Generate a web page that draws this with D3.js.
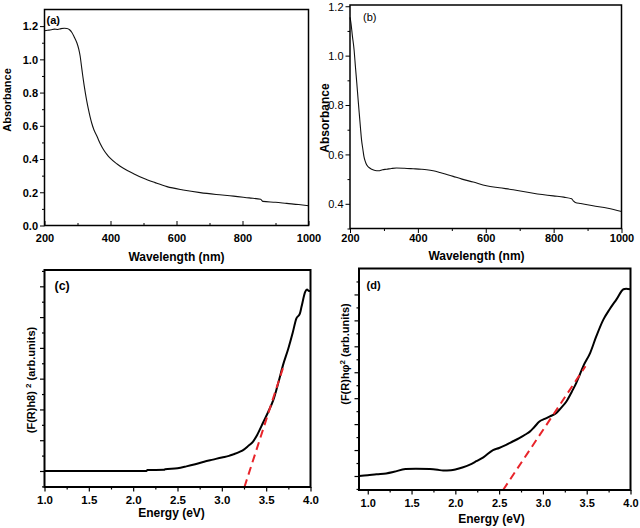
<!DOCTYPE html>
<html>
<head>
<meta charset="utf-8">
<script src="https://cdn.jsdelivr.net/npm/d3@7"></script>
<style>
  html, body { margin: 0; padding: 0; background: #fff; }
  svg { display: block; }
  text { font-family: "Liberation Sans", Arial, sans-serif; font-weight: bold; fill: #000; }
</style>
</head>
<body>
<svg id="chart" width="640" height="528"></svg>
<script>
// ---------- DATA ----------
// Panel (a): absorbance vs wavelength
const aWavelength = [200, 210, 220, 230, 240, 250, 260, 268, 276, 283, 290, 298, 304, 308, 312, 316, 320, 324, 328, 333, 338, 343, 350, 359, 369, 379, 389, 399, 420, 439, 470, 500, 535, 571, 620, 672, 720, 773, 820, 855, 862, 900, 934, 970, 1000];
const aAbsorbance = [1.172, 1.175, 1.178, 1.182, 1.180, 1.185, 1.187, 1.186, 1.178, 1.162, 1.135, 1.10, 1.06, 1.02, 0.96, 0.90, 0.845, 0.795, 0.75, 0.70, 0.655, 0.617, 0.575, 0.537, 0.492, 0.456, 0.428, 0.405, 0.370, 0.345, 0.312, 0.284, 0.258, 0.234, 0.214, 0.198, 0.187, 0.177, 0.166, 0.158, 0.145, 0.140, 0.133, 0.126, 0.119];

// Panel (b): absorbance vs wavelength
const bWavelength = [200, 203, 207, 212, 216, 220, 224, 228, 231, 234, 238, 241, 245, 249, 256, 264, 274, 284, 296, 308, 322, 337, 360, 386, 410, 426, 445, 465, 485, 504, 530, 563, 602, 640, 681, 740, 799, 830, 853, 858, 864, 880, 916, 960, 1000];
const bAbsorbance = [1.155, 1.13, 1.08, 1.024, 0.955, 0.889, 0.82, 0.754, 0.705, 0.659, 0.62, 0.592, 0.572, 0.558, 0.547, 0.540, 0.535, 0.534, 0.538, 0.540, 0.543, 0.545, 0.544, 0.542, 0.540, 0.538, 0.534, 0.527, 0.519, 0.511, 0.500, 0.488, 0.473, 0.465, 0.457, 0.443, 0.432, 0.427, 0.420, 0.412, 0.405, 0.401, 0.392, 0.382, 0.369];

// Panel (c): Tauc plot (arbitrary units)
const cEnergy = [1.0, 1.5, 2.0, 2.15, 2.16, 2.35, 2.36, 2.5, 2.6, 2.7, 2.8, 2.9, 3.0, 3.08, 3.13, 3.2, 3.24, 3.3, 3.35, 3.4, 3.47, 3.52, 3.58, 3.64, 3.69, 3.75, 3.8, 3.84, 3.88, 3.9, 3.94, 3.96, 3.98, 4.0];
const cValue  = [0, 0, 0, 0, 0.03, 0.04, 0.06, 0.09, 0.15, 0.22, 0.30, 0.37, 0.44, 0.49, 0.54, 0.62, 0.68, 0.82, 0.95, 1.18, 1.6, 1.9, 2.3, 2.9, 3.44, 3.98, 4.5, 4.95, 5.11, 5.35, 5.82, 5.9, 5.85, 5.85];
const cFitEnergy = [3.255, 3.70];
const cFitValue  = [-0.52, 3.44];

// Panel (d): Tauc plot (arbitrary units)
const dEnergy = [0.9, 1.0, 1.1, 1.21, 1.3, 1.43, 1.55, 1.71, 1.8, 1.86, 1.95, 2.01, 2.08, 2.16, 2.24, 2.32, 2.43, 2.5, 2.58, 2.65, 2.73, 2.8, 2.85, 2.9, 2.96, 3.02, 3.08, 3.15, 3.2, 3.27, 3.33, 3.38, 3.42, 3.46, 3.54, 3.61, 3.69, 3.76, 3.84, 3.92, 3.95, 4.0];
const dValue  = [0, 0.03, 0.07, 0.1, 0.16, 0.27, 0.28, 0.27, 0.24, 0.21, 0.22, 0.26, 0.33, 0.43, 0.57, 0.72, 1.0, 1.08, 1.2, 1.32, 1.46, 1.6, 1.71, 1.88, 2.1, 2.2, 2.3, 2.42, 2.6, 2.88, 3.25, 3.58, 3.9, 4.23, 4.75, 5.39, 6.03, 6.42, 6.81, 7.2, 7.22, 7.2];
const dFitEnergy = [2.545, 3.486];
const dFitValue  = [-0.54, 4.23];

// Ticks
const wlMajor = [200, 400, 600, 800, 1000];
const wlMinor = [300, 500, 700, 900];
const aYMajor = [0.0, 0.2, 0.4, 0.6, 0.8, 1.0, 1.2];
const aYMinor = [0.1, 0.3, 0.5, 0.7, 0.9, 1.1];
const bYMajor = [0.4, 0.6, 0.8, 1.0, 1.2];
const bYMinor = [0.3, 0.5, 0.7, 0.9, 1.1];
const eMajorC = [1.0, 1.5, 2.0, 2.5, 3.0, 3.5, 4.0];
const eMinorC = [1.25, 1.75, 2.25, 2.75, 3.25, 3.75];
const eMinorD = [1.25, 1.75, 2.25, 2.75, 3.25, 3.75];
const cYMajor = [0, 1, 2, 3, 4, 5, 6];
const cYMinor = [-0.5, 0.5, 1.5, 2.5, 3.5, 4.5, 5.5, 6.5];
const dYMajor = [0, 1, 2, 3, 4, 5, 6, 7];
const dYMinor = [-0.5, 0.5, 1.5, 2.5, 3.5, 4.5, 5.5, 6.5, 7.5];

// ---------- DRAW ----------
const svg = d3.select("#chart");

function drawPanel(cfg) {
  const g = svg.append("g");
  const x = d3.scaleLinear().domain(cfg.xDomain).range([cfg.left, cfg.right]);
  const y = d3.scaleLinear().domain(cfg.yDomain).range([cfg.bottom, cfg.top]);

  // x minor
  g.append("g").attr("transform", `translate(0,${cfg.bottom})`)
    .call(d3.axisBottom(x).tickValues(cfg.xMinor).tickSize(cfg.xIn ? -2.5 : 2.5).tickFormat(""))
    .call(s => { s.select(".domain").remove(); s.selectAll("line").attr("stroke", "#000").attr("stroke-width", cfg.tw); });
  // x major
  g.append("g").attr("transform", `translate(0,${cfg.bottom})`)
    .call(d3.axisBottom(x).tickValues(cfg.xMajor).tickSize(cfg.xIn ? -4.5 : 4.5).tickFormat(cfg.xFmt))
    .call(s => {
      s.select(".domain").remove();
      s.selectAll("line").attr("stroke", "#000").attr("stroke-width", cfg.tw);
      s.selectAll("text").attr("y", cfg.xLabOff).attr("dy", "0.35em")
        .style("font-size", cfg.xFont + "px").attr("fill", "#000");
    });
  // y minor
  g.append("g").attr("transform", `translate(${cfg.left},0)`)
    .call(d3.axisLeft(y).tickValues(cfg.yMinor.filter(v => v >= cfg.yDomain[0] && v <= cfg.yDomain[1])).tickSize(2.5).tickFormat(""))
    .call(s => { s.select(".domain").remove(); s.selectAll("line").attr("stroke", "#000").attr("stroke-width", cfg.tw); });
  // y major
  g.append("g").attr("transform", `translate(${cfg.left},0)`)
    .call(d3.axisLeft(y).tickValues(cfg.yMajor).tickSize(4.5).tickFormat(cfg.yFmt || ""))
    .call(s => {
      s.select(".domain").remove();
      s.selectAll("line").attr("stroke", "#000").attr("stroke-width", cfg.tw);
      s.selectAll("text").attr("x", -6.5).attr("dy", "0.35em")
        .style("font-size", "11px").style("font-weight", cfg.yWeight || "bold").attr("fill", "#000");
    });

  // curve
  const pts = cfg.xs.map((v, i) => [v, cfg.ys[i]]);
  g.append("path").datum(pts)
    .attr("fill", "none").attr("stroke", cfg.lineColor).attr("stroke-width", cfg.lw)
    .attr("stroke-linejoin", "round")
    .attr("d", d3.line().x(d => x(d[0])).y(d => y(d[1])).curve(d3.curveMonotoneX));

  // fit line
  if (cfg.fitX) {
    const fp = cfg.fitX.map((v, i) => [v, cfg.fitY[i]]);
    g.append("path").datum(fp)
      .attr("fill", "none").attr("stroke", "#e8242a").attr("stroke-width", 2)
      .attr("stroke-dasharray", "8,5")
      .attr("d", d3.line().x(d => x(d[0])).y(d => y(d[1])));
  }

  // frame
  g.append("rect").attr("x", cfg.left).attr("y", cfg.top)
    .attr("width", cfg.right - cfg.left).attr("height", cfg.bottom - cfg.top)
    .attr("fill", "none").attr("stroke", "#000").attr("stroke-width", cfg.fw);

  // panel label
  g.append("text").attr("x", cfg.tag[0]).attr("y", cfg.tag[1]).attr("dy", "0.35em")
    .style("font-size", cfg.tag[3] + "px").style("font-weight", cfg.tag[4] || "bold").text(cfg.tag[2]);

  // x title
  g.append("text").attr("x", cfg.xTitle[0]).attr("y", cfg.xTitle[1]).attr("dy", "0.35em")
    .attr("text-anchor", "middle").style("font-size", "12px").text(cfg.xTitle[2]);

  // y title
  const yt = g.append("text")
    .attr("transform", `translate(${cfg.yTitle[0]},${cfg.yTitle[1]}) rotate(-90)`)
    .attr("dy", "0.35em").attr("text-anchor", "middle").style("font-size", cfg.yTitle[3] + "px");
  if (cfg.yTitleParts) {
    cfg.yTitleParts.forEach(p => {
      const t = yt.append("tspan").text(p.t);
      if (p.sup) t.attr("baseline-shift", "super").style("font-size", "8px");
    });
  } else {
    yt.text(cfg.yTitle[2]);
  }
  return g;
}

const fmt1 = d3.format(".1f");

drawPanel({
  left: 44.5, right: 308.5, top: 9.5, bottom: 225.5,
  xDomain: [200, 1000], yDomain: [0, 1.3],
  xMajor: wlMajor, xMinor: wlMinor, yMajor: aYMajor, yMinor: aYMinor,
  xFmt: d3.format("d"), yFmt: fmt1, xIn: true, xLabOff: 12.5, xFont: 11,
  xs: aWavelength, ys: aAbsorbance, lineColor: "#111", lw: 1.1, tw: 1, fw: 1.5,
  tag: [46.5, 20, "(a)", 11],
  xTitle: [176.5, 257, "Wavelength (nm)"],
  yTitle: [7, 100, "Absorbance", 11]
});

drawPanel({
  left: 350, right: 621.5, top: 5, bottom: 228.5,
  xDomain: [200, 1000], yDomain: [0.3, 1.205],
  xMajor: wlMajor, xMinor: wlMinor, yMajor: bYMajor, yMinor: bYMinor,
  xFmt: d3.format("d"), yFmt: fmt1, yWeight: "normal", xIn: false, xLabOff: 10, xFont: 11,
  xs: bWavelength, ys: bAbsorbance, lineColor: "#111", lw: 1.1, tw: 1, fw: 1.5,
  tag: [363, 17, "(b)", 11, "normal"],
  xTitle: [476.5, 255.5, "Wavelength (nm)"],
  yTitle: [325, 118, "Absorbance", 12]
});

drawPanel({
  left: 44.5, right: 310.5, top: 270, bottom: 487,
  xDomain: [1.0, 4.0], yDomain: [-0.52, 6.53],
  xMajor: eMajorC, xMinor: eMinorC, yMajor: cYMajor, yMinor: cYMinor,
  xFmt: fmt1, yFmt: null, xIn: false, xLabOff: 13, xFont: 11.5,
  xs: cEnergy, ys: cValue, lineColor: "#000", lw: 2, tw: 1.2, fw: 2,
  fitX: cFitEnergy, fitY: cFitValue,
  tag: [54.5, 286, "(c)", 12.5],
  xTitle: [171.5, 513, "Energy (eV)"],
  yTitle: [31, 380, "", 11],
  yTitleParts: [{t: "(F(R)h8)"}, {t: " "}, {t: "2", sup: true}, {t: " (arb.units)"}]
});

drawPanel({
  left: 359, right: 630.5, top: 268.5, bottom: 490,
  xDomain: [0.9, 4.0], yDomain: [-0.54, 8.0],
  xMajor: eMajorC, xMinor: eMinorD, yMajor: dYMajor, yMinor: dYMinor,
  xFmt: fmt1, yFmt: null, xIn: false, xLabOff: 13, xFont: 11,
  xs: dEnergy, ys: dValue, lineColor: "#000", lw: 2, tw: 1.2, fw: 2,
  fitX: dFitEnergy, fitY: dFitValue,
  tag: [366.5, 285, "(d)", 11],
  xTitle: [491.5, 519, "Energy (eV)"],
  yTitle: [345, 354, "", 11],
  yTitleParts: [{t: "(F(R)hφ"}, {t: "2", sup: true}, {t: " (arb.units)"}]
});
</script>
</body>
</html>
